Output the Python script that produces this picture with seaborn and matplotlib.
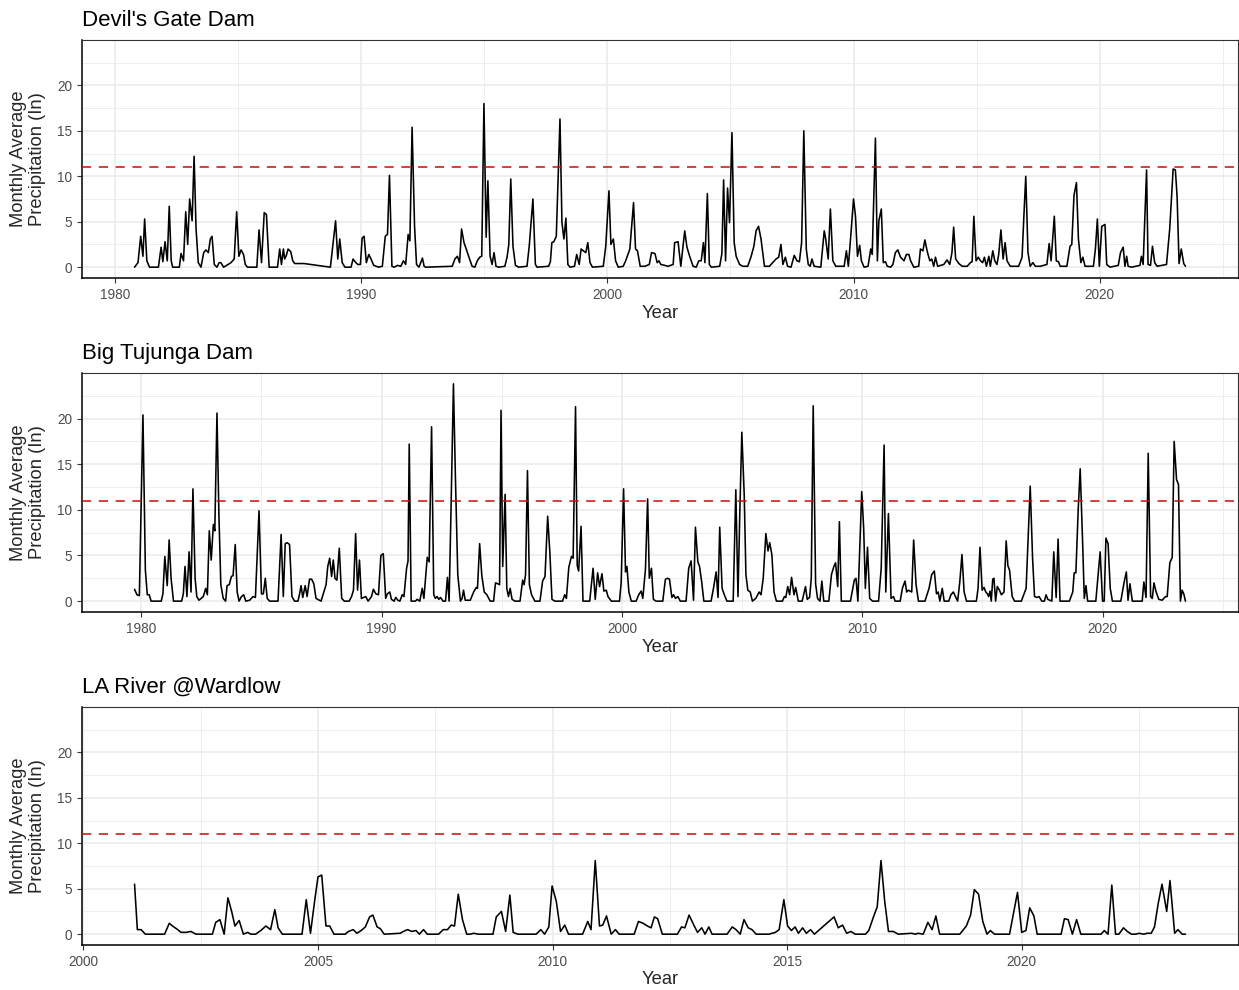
import numpy as np
import pandas as pd
import matplotlib
matplotlib.use("Agg")
import matplotlib.pyplot as plt
import seaborn as sns
from matplotlib.ticker import MultipleLocator

# ---------------- data (decimal year, monthly average precipitation in inches) ----------------
stations = ["Devil's Gate Dam", "Big Tujunga Dam", "LA River @Wardlow"]
threshold = 11.0
x_major_step = [10, 10, 5]

devils_gate = [
    (1980.78,0),(1980.92,0.5),(1981.03,3.4),(1981.12,1.2),(1981.19,5.3),(1981.28,0.7),(1981.39,0),
    (1981.75,0),(1981.86,2.2),(1981.93,0.6),(1982.02,2.8),(1982.11,0.7),(1982.19,6.7),(1982.27,0.7),
    (1982.33,0),(1982.60,0),(1982.67,1.5),(1982.77,0.7),(1982.86,6.1),(1982.94,2.5),(1983.02,7.5),
    (1983.12,5.1),(1983.20,12.2),(1983.28,4.2),(1983.37,0.5),(1983.48,0),(1983.59,1.6),(1983.68,1.9),
    (1983.78,1.6),(1983.86,3.1),(1983.93,3.4),(1984.02,0.3),(1984.13,0),(1984.22,0.5),(1984.29,0.5),
    (1984.40,0),(1984.70,0.5),(1984.83,0.9),(1984.93,6.1),(1985.02,1.2),(1985.11,1.9),(1985.21,1.4),
    (1985.28,0.3),(1985.37,0),(1985.75,0),(1985.84,4.1),(1985.94,0.5),(1986.05,6.0),(1986.14,5.8),
    (1986.25,0),(1986.59,0),(1986.68,2.0),(1986.75,0.3),(1986.83,2.0),(1986.88,0.9),(1986.95,1.3),
    (1987.02,2.0),(1987.13,1.7),(1987.21,0.7),(1987.29,0.4),(1987.67,0.4),(1988.74,0),(1988.95,5.1),
    (1989.04,0.9),(1989.12,3.1),(1989.22,0.5),(1989.33,0),(1989.58,0),(1989.66,0.9),(1989.74,0.6),
    (1989.85,0.3),(1989.96,0.3),(1990.03,3.2),(1990.11,3.4),(1990.20,0.5),(1990.30,1.4),(1990.39,0.9),
    (1990.50,0.2),(1990.70,0),(1990.85,0.1),(1990.97,3.4),(1991.06,3.6),(1991.14,10.1),(1991.24,0.1),
    (1991.33,0),(1991.47,0.2),(1991.60,0.1),(1991.71,0.7),(1991.80,0.3),(1991.90,3.6),(1991.97,2.9),
    (1992.06,15.4),(1992.16,4.5),(1992.24,0.3),(1992.34,0),(1992.48,1.0),(1992.55,0.1),(1992.61,0),
    (1993.69,0.1),(1993.80,0.9),(1993.90,1.2),(1993.99,0.5),(1994.07,4.2),(1994.17,2.7),(1994.26,2.0),
    (1994.37,1.1),(1994.50,0.1),(1994.61,0),(1994.71,0.7),(1994.81,1.1),(1994.89,1.2),(1994.98,18.0),
    (1995.07,3.3),(1995.14,9.5),(1995.23,1.2),(1995.31,0.3),(1995.39,1.6),(1995.47,0.1),(1995.58,0),
    (1995.83,0.1),(1995.92,1.1),(1995.99,2.5),(1996.07,9.7),(1996.16,2.3),(1996.26,0.2),(1996.39,0),
    (1996.73,0.1),(1996.82,2.3),(1996.97,7.5),(1997.07,0.3),(1997.14,0),(1997.61,0.1),(1997.68,0.6),
    (1997.74,2.7),(1997.82,2.8),(1997.92,3.4),(1998.07,16.3),(1998.15,4.9),(1998.23,3.1),(1998.31,5.4),
    (1998.39,0.3),(1998.48,0),(1998.66,0.1),(1998.75,1.4),(1998.85,0.3),(1998.93,2.0),(1999.02,1.8),
    (1999.12,1.6),(1999.20,2.7),(1999.29,0.5),(1999.39,0),(1999.83,0.1),(1999.93,2.3),(2000.06,8.4),
    (2000.14,2.5),(2000.24,3.1),(2000.33,0.7),(2000.44,0),(2000.64,0.1),(2000.74,0.7),(2000.91,2.0),
    (2001.06,7.1),(2001.14,2.0),(2001.22,1.8),(2001.33,0.1),(2001.52,0.1),(2001.70,0.3),(2001.79,1.6),
    (2001.93,1.5),(2002.02,0.5),(2002.09,0.7),(2002.17,0.3),(2002.33,0.2),(2002.46,0.1),(2002.67,0.3),
    (2002.73,2.7),(2002.87,2.8),(2002.98,0.1),(2003.07,2.3),(2003.14,4.0),(2003.23,2.2),(2003.34,1.2),
    (2003.48,0.1),(2003.61,0),(2003.71,0.7),(2003.81,0.7),(2003.90,2.7),(2003.96,0.5),(2004.06,8.1),
    (2004.14,0.3),(2004.22,0),(2004.56,0.1),(2004.65,1.5),(2004.72,9.6),(2004.80,0.7),(2004.88,8.7),
    (2004.96,4.9),(2005.06,14.8),(2005.15,2.7),(2005.23,1.2),(2005.37,0.3),(2005.50,0.1),(2005.70,0.1),
    (2005.84,1.2),(2005.95,2.3),(2006.04,4.0),(2006.14,4.5),(2006.24,3.1),(2006.38,0.1),(2006.58,0.1),
    (2006.85,0.9),(2006.96,1.1),(2007.05,2.5),(2007.13,0.3),(2007.23,1.1),(2007.32,0.1),(2007.46,0),
    (2007.59,1.3),(2007.70,0.7),(2007.80,0.6),(2007.89,2.7),(2007.98,15.0),(2008.08,2.0),(2008.16,0.3),
    (2008.24,0.1),(2008.31,0.9),(2008.40,0.1),(2008.67,0),(2008.81,4.0),(2008.87,3.1),(2008.97,0.9),
    (2009.06,6.4),(2009.16,0.7),(2009.28,0.1),(2009.62,0.1),(2009.71,1.8),(2009.79,0.1),(2009.89,3.5),
    (2010.00,7.5),(2010.08,5.6),(2010.16,1.2),(2010.25,2.4),(2010.32,0.7),(2010.43,0),(2010.59,0.1),
    (2010.70,2.0),(2010.76,1.4),(2010.89,14.2),(2010.97,0.7),(2011.03,5.1),(2011.13,6.4),(2011.21,0.5),
    (2011.30,0.6),(2011.37,0.1),(2011.51,0),(2011.60,0.3),(2011.70,1.6),(2011.80,1.9),(2011.91,1.1),
    (2012.05,0.7),(2012.15,1.4),(2012.25,1.4),(2012.32,0.7),(2012.45,0),(2012.65,0.1),(2012.72,2.0),
    (2012.82,1.8),(2012.90,3.0),(2012.99,1.8),(2013.10,0.7),(2013.18,0.9),(2013.26,0.1),(2013.33,1.1),
    (2013.42,0.1),(2013.67,0.3),(2013.80,0.8),(2013.91,0.3),(2014.00,1.6),(2014.07,4.4),(2014.15,0.9),
    (2014.28,0.4),(2014.42,0.1),(2014.62,0.1),(2014.75,0.5),(2014.82,0.6),(2014.89,5.6),(2014.98,0.7),
    (2015.07,1.1),(2015.16,0.7),(2015.25,0.5),(2015.32,1.1),(2015.40,0.1),(2015.50,1.2),(2015.56,0.1),
    (2015.66,1.8),(2015.74,0.7),(2015.83,0.3),(2015.90,1.4),(2015.99,4.1),(2016.08,0.9),(2016.16,2.7),
    (2016.24,0.7),(2016.37,0.1),(2016.71,0.1),(2016.85,1.1),(2016.93,6.0),(2017.00,10.0),(2017.09,1.6),
    (2017.18,0.1),(2017.29,0.5),(2017.39,0.1),(2017.59,0.1),(2017.86,0.3),(2017.95,2.6),(2018.03,0.7),
    (2018.16,5.6),(2018.24,0.7),(2018.33,0.6),(2018.40,0.1),(2018.67,0.1),(2018.80,2.3),(2018.87,2.5),
    (2018.96,7.9),(2019.06,9.3),(2019.14,3.1),(2019.24,0.5),(2019.32,1.1),(2019.41,0.1),(2019.75,0.1),
    (2019.83,2.0),(2019.91,5.3),(2019.99,0.1),(2020.09,4.5),(2020.22,4.7),(2020.29,0.3),(2020.42,0),
    (2020.76,0.2),(2020.85,1.6),(2020.96,2.2),(2021.03,0.1),(2021.10,1.2),(2021.16,0.1),(2021.30,0),
    (2021.64,0.2),(2021.70,1.2),(2021.77,0.3),(2021.91,10.7),(2021.97,0.3),(2022.07,0.2),(2022.15,2.3),
    (2022.24,0.5),(2022.34,0.1),(2022.72,0.3),(2022.85,4.2),(2022.99,10.8),(2023.08,10.7),(2023.15,7.8),
    (2023.23,0.4),(2023.32,2.0),(2023.42,0.4),(2023.49,0.1),
]

big_tujunga = [
    (1979.72,1.3),(1979.82,0.7),(1979.92,0.6),(1980.07,20.4),(1980.17,3.4),(1980.25,0.7),(1980.33,0.7),
    (1980.41,0),(1980.83,0),(1980.90,0.8),(1980.98,4.9),(1981.08,1.7),(1981.16,6.7),(1981.24,2.5),
    (1981.34,0),(1981.68,0),(1981.75,0.8),(1981.82,3.8),(1981.90,0.5),(1981.99,5.4),(1982.07,1.0),
    (1982.15,12.3),(1982.24,2.5),(1982.31,0.5),(1982.40,0.1),(1982.58,0.5),(1982.68,1.4),(1982.75,0.7),
    (1982.83,7.7),(1982.91,4.5),(1983.00,8.4),(1983.06,7.7),(1983.15,20.6),(1983.23,9.5),(1983.31,1.8),
    (1983.41,0.3),(1983.51,0),(1983.57,1.7),(1983.66,1.8),(1983.75,2.7),(1983.82,2.8),(1983.91,6.2),
    (1983.99,1.0),(1984.07,0),(1984.17,0.5),(1984.26,0.7),(1984.35,0),(1984.51,0.1),(1984.65,0.5),
    (1984.75,0.4),(1984.90,9.9),(1985.00,0.8),(1985.08,0.8),(1985.16,2.5),(1985.24,0.3),(1985.34,0),
    (1985.69,0),(1985.82,7.3),(1985.91,0.5),(1985.99,6.3),(1986.07,6.4),(1986.17,6.2),(1986.27,0.5),
    (1986.38,0),(1986.52,0),(1986.58,0.7),(1986.65,1.7),(1986.72,0.4),(1986.82,1.7),(1986.90,0.5),
    (1987.00,2.4),(1987.09,2.4),(1987.18,1.9),(1987.27,0.3),(1987.48,0),(1987.69,1.8),(1987.76,3.8),
    (1987.84,4.7),(1987.92,2.7),(1987.99,4.5),(1988.06,2.5),(1988.14,2.3),(1988.24,5.8),(1988.34,0.3),
    (1988.45,0),(1988.65,0),(1988.75,0.5),(1988.83,1.2),(1988.92,7.4),(1989.00,1.2),(1989.08,4.5),
    (1989.16,0.3),(1989.25,0.4),(1989.34,0.5),(1989.44,0),(1989.58,0.5),(1989.66,1.3),(1989.76,0.8),
    (1989.87,0.7),(1989.97,5.0),(1990.07,5.2),(1990.17,0.3),(1990.24,0.8),(1990.34,1.0),(1990.41,0.2),
    (1990.52,0),(1990.59,0.4),(1990.68,0.1),(1990.76,0),(1990.86,0.7),(1990.93,0.5),(1991.04,3.6),
    (1991.10,4.4),(1991.15,17.2),(1991.23,0),(1991.41,0),(1991.48,0.2),(1991.59,0),(1991.69,1.4),
    (1991.76,0.3),(1991.90,4.8),(1991.98,4.3),(1992.08,19.1),(1992.17,0.7),(1992.24,0.3),(1992.31,0.5),
    (1992.38,0.2),(1992.45,0.4),(1992.56,0),(1992.66,0),(1992.74,2.6),(1992.81,0),(1992.89,10.2),
    (1992.99,23.8),(1993.07,13.8),(1993.17,2.9),(1993.28,0),(1993.35,0.3),(1993.41,1.2),(1993.48,0.1),
    (1993.69,0.1),(1993.83,1.0),(1993.94,1.5),(1993.99,1.4),(1994.08,6.3),(1994.17,2.8),(1994.27,1.0),
    (1994.38,0.7),(1994.52,0),(1994.66,0),(1994.74,2.0),(1994.84,1.9),(1994.91,1.8),(1994.97,20.9),
    (1995.04,3.8),(1995.14,11.7),(1995.21,1.4),(1995.28,0.5),(1995.35,1.4),(1995.43,0.2),(1995.55,0),
    (1995.76,0),(1995.87,2.3),(1995.93,1.8),(1995.99,2.9),(1996.07,14.3),(1996.15,1.8),(1996.24,0.7),
    (1996.38,0),(1996.59,0),(1996.70,2.2),(1996.80,2.7),(1996.91,9.3),(1997.00,5.4),(1997.09,0.2),
    (1997.21,0),(1997.53,0),(1997.62,0.7),(1997.69,0.3),(1997.79,3.7),(1997.90,4.9),(1997.97,4.7),
    (1998.07,21.3),(1998.14,3.9),(1998.20,3.3),(1998.30,8.2),(1998.38,0),(1998.66,0),(1998.80,3.6),
    (1998.89,0.2),(1998.99,3.1),(1999.07,1.6),(1999.17,3.0),(1999.25,1.1),(1999.35,1.2),(1999.42,0.5),
    (1999.56,0),(1999.90,0),(1999.97,2.1),(2000.07,12.3),(2000.15,3.2),(2000.21,3.8),(2000.29,1.0),
    (2000.39,0),(2000.59,0),(2000.70,0.7),(2000.80,1.1),(2000.87,0.3),(2000.98,3.5),(2001.07,11.2),
    (2001.14,2.5),(2001.23,3.6),(2001.31,0.2),(2001.42,0),(2001.70,0),(2001.81,2.4),(2001.90,2.5),
    (2001.98,2.4),(2002.08,0.4),(2002.15,0.7),(2002.23,0.3),(2002.33,0.5),(2002.43,0),(2002.67,0),
    (2002.78,3.6),(2002.88,4.4),(2002.98,0.1),(2003.06,8.1),(2003.16,4.3),(2003.23,3.8),(2003.32,2.1),
    (2003.41,0),(2003.71,0),(2003.81,1.4),(2003.92,3.2),(2004.00,0.4),(2004.07,8.1),(2004.17,1.4),
    (2004.26,0.7),(2004.37,0),(2004.63,0),(2004.74,12.2),(2004.83,0.5),(2004.91,10.1),(2004.99,18.5),
    (2005.09,11.6),(2005.16,2.9),(2005.24,1.2),(2005.34,1.0),(2005.43,0),(2005.57,0.3),(2005.71,1.0),
    (2005.79,0.7),(2005.88,2.5),(2005.99,7.4),(2006.08,5.5),(2006.15,6.4),(2006.24,5.1),(2006.33,1.0),
    (2006.43,0),(2006.68,0),(2006.76,0.5),(2006.82,0.4),(2006.90,1.6),(2006.98,0.7),(2007.06,2.6),
    (2007.16,0.7),(2007.23,1.5),(2007.34,0),(2007.50,0),(2007.64,1.6),(2007.71,0.2),(2007.81,0.4),
    (2007.88,2.5),(2007.96,21.4),(2008.06,1.9),(2008.14,0.3),(2008.24,0),(2008.32,2.2),(2008.40,0),
    (2008.61,0),(2008.72,2.9),(2008.82,3.8),(2008.89,4.2),(2008.98,1.6),(2009.05,8.7),(2009.13,0),
    (2009.51,0),(2009.67,2.3),(2009.74,2.5),(2009.82,0),(2009.98,12.0),(2010.06,8.0),(2010.13,1.4),
    (2010.22,5.9),(2010.31,0.3),(2010.43,0),(2010.68,0),(2010.79,3.6),(2010.91,17.1),(2010.98,1.0),
    (2011.09,9.6),(2011.20,0.3),(2011.30,0.5),(2011.37,0),(2011.58,0),(2011.67,1.4),(2011.78,2.2),
    (2011.85,1.0),(2011.92,1.2),(2011.99,1.1),(2012.06,1.0),(2012.14,6.7),(2012.24,1.8),(2012.34,0),
    (2012.61,0),(2012.78,1.4),(2012.89,2.9),(2013.00,3.3),(2013.09,0.8),(2013.16,1.0),(2013.23,0),
    (2013.33,1.4),(2013.41,0),(2013.60,0),(2013.69,0.7),(2013.79,1.0),(2013.88,0.5),(2013.97,0),
    (2014.06,2.1),(2014.15,5.1),(2014.24,1.0),(2014.34,0),(2014.75,0),(2014.82,1.4),(2014.90,5.9),
    (2014.99,1.2),(2015.07,1.5),(2015.14,1.0),(2015.21,0.8),(2015.26,0.5),(2015.32,1.1),(2015.37,0),
    (2015.43,2.4),(2015.48,2.5),(2015.55,0),(2015.62,1.6),(2015.71,1.2),(2015.79,0.7),(2015.90,1.0),
    (2015.99,6.6),(2016.06,3.9),(2016.13,3.4),(2016.24,0.5),(2016.34,0),(2016.62,0),(2016.82,1.4),
    (2016.99,12.6),(2017.09,4.6),(2017.17,0.5),(2017.27,0.4),(2017.36,0.5),(2017.47,0),(2017.58,0),
    (2017.65,0.7),(2017.72,0.2),(2017.89,0),(2017.97,5.4),(2018.07,0.4),(2018.15,6.8),(2018.23,0),
    (2018.62,0),(2018.76,1.0),(2018.82,3.1),(2018.89,3.1),(2018.99,10.2),(2019.07,14.5),(2019.17,6.5),
    (2019.24,0.3),(2019.31,1.7),(2019.38,0),(2019.72,0),(2019.90,5.4),(2020.00,0),(2020.07,0),
    (2020.14,6.9),(2020.23,6.3),(2020.32,1.4),(2020.41,0),(2020.76,0),(2020.90,2.1),(2020.99,3.2),
    (2021.06,0.1),(2021.14,1.9),(2021.24,0),(2021.65,0),(2021.72,2.1),(2021.81,0.4),(2021.90,16.2),
    (2022.00,0.5),(2022.07,0.3),(2022.14,2.0),(2022.23,1.0),(2022.34,0.2),(2022.48,0.1),(2022.62,0.5),
    (2022.69,0.5),(2022.80,4.2),(2022.90,4.8),(2022.98,17.5),(2023.08,13.3),(2023.16,12.8),(2023.24,0),
    (2023.31,1.2),(2023.38,0.8),(2023.45,0),
]

la_river = [
    (2001.09,5.5),(2001.15,0.5),(2001.23,0.5),(2001.32,0),(2001.73,0),(2001.83,1.2),(2001.90,0.9),
    (2002.01,0.5),(2002.08,0.2),(2002.19,0.2),(2002.29,0.3),(2002.40,0),(2002.75,0),(2002.82,1.3),
    (2002.91,1.6),(2003.00,0),(2003.08,4.0),(2003.16,2.5),(2003.23,0.9),(2003.32,1.5),(2003.41,0),
    (2003.50,0.2),(2003.57,0),(2003.67,0),(2003.78,0.4),(2003.89,0.9),(2003.99,0.5),(2004.08,2.7),
    (2004.15,0.7),(2004.24,0),(2004.66,0),(2004.75,3.8),(2004.84,0.1),(2004.93,3.7),(2005.00,6.3),
    (2005.08,6.5),(2005.17,0.9),(2005.25,0.9),(2005.34,0),(2005.58,0),(2005.65,0.3),(2005.75,0.5),
    (2005.83,0.1),(2005.92,0.4),(2006.01,0.8),(2006.10,1.9),(2006.17,2.1),(2006.26,0.8),(2006.33,0.6),
    (2006.41,0),(2006.75,0.1),(2006.82,0.3),(2006.91,0.5),(2007.00,0.3),(2007.09,0.4),(2007.16,0),
    (2007.25,0.5),(2007.33,0),(2007.57,0),(2007.67,0.5),(2007.76,0.5),(2007.84,1.0),(2007.91,0.9),
    (2007.99,4.4),(2008.08,1.6),(2008.17,0),(2008.24,0),(2008.32,0.1),(2008.42,0),(2008.73,0),
    (2008.80,1.9),(2008.91,2.5),(2009.00,0.3),(2009.09,4.3),(2009.16,0.2),(2009.26,0),(2009.65,0),
    (2009.75,0.5),(2009.83,0),(2009.92,0.8),(2009.99,5.3),(2010.08,3.6),(2010.17,0.3),(2010.26,1.0),
    (2010.34,0),(2010.64,0),(2010.75,1.4),(2010.82,0.5),(2010.91,8.1),(2011.00,0.9),(2011.07,1.0),
    (2011.15,2.0),(2011.25,0),(2011.34,0.5),(2011.42,0),(2011.74,0),(2011.83,1.4),(2011.93,1.2),
    (2012.02,0.9),(2012.10,0.7),(2012.17,1.9),(2012.24,1.7),(2012.34,0),(2012.66,0),(2012.75,0.8),
    (2012.82,0.7),(2012.91,2.1),(2013.02,0.9),(2013.09,0.2),(2013.18,0.7),(2013.25,0),(2013.33,0.8),
    (2013.40,0),(2013.72,0),(2013.83,0.8),(2013.91,0.5),(2014.00,0),(2014.08,1.6),(2014.17,0.7),
    (2014.25,0.5),(2014.34,0),(2014.61,0),(2014.75,0.2),(2014.83,0.5),(2014.93,3.8),(2015.01,0.9),
    (2015.09,0.4),(2015.17,0.8),(2015.24,0.1),(2015.33,0.7),(2015.41,0.1),(2015.50,0.5),(2015.58,0),
    (2016.00,1.9),(2016.09,0.7),(2016.18,1.0),(2016.27,0.1),(2016.36,0.3),(2016.45,0),(2016.67,0),
    (2016.74,0.4),(2016.84,1.9),(2016.92,3.0),(2017.00,8.1),(2017.08,3.6),(2017.16,0.3),(2017.26,0.3),
    (2017.37,0),(2017.65,0.1),(2017.74,0),(2017.79,0.1),(2017.90,0),(2018.00,1.3),(2018.09,0.5),
    (2018.17,2.0),(2018.25,0),(2018.68,0),(2018.82,0.9),(2018.91,2.1),(2018.99,4.9),(2019.08,4.4),
    (2019.17,1.4),(2019.26,0),(2019.33,0.4),(2019.42,0),(2019.74,0),(2019.91,4.6),(2020.00,0.2),
    (2020.09,0.4),(2020.17,2.9),(2020.26,2.0),(2020.33,0),(2020.84,0),(2020.91,1.7),(2020.99,1.6),
    (2021.08,0),(2021.17,1.6),(2021.26,0),(2021.69,0),(2021.76,0.4),(2021.84,0),(2021.92,5.4),
    (2022.00,0),(2022.07,0),(2022.17,0.7),(2022.25,0.3),(2022.34,0),(2022.43,0),(2022.50,0.1),
    (2022.60,0),(2022.67,0.1),(2022.76,0.1),(2022.83,0.8),(2022.91,3.4),(2022.99,5.5),(2023.09,2.5),
    (2023.16,5.9),(2023.26,0.1),(2023.33,0.5),(2023.42,0),(2023.49,0),
]

series = [devils_gate, big_tujunga, la_river]

# ---------------- styling ----------------
sns.set_style("white")
plt.rcParams['font.family'] = ['Liberation Sans', 'DejaVu Sans']

W, H = 1239, 990
fig = plt.figure(figsize=(W / 100, H / 100), dpi=100)
fig.patch.set_facecolor("white")

panel_px = [(40, 278), (373, 612), (707, 945)]   # (top, bottom) in pixels
left_px, right_px = 82, 1238

ymax = max(v for s in series for _, v in s)
ylim = (-0.05 * ymax, 1.05 * ymax)

for i, (name, data) in enumerate(zip(stations, series)):
    top, bot = panel_px[i]
    ax = fig.add_axes([left_px / W, 1 - bot / H, (right_px - left_px) / W, (bot - top) / H])
    df = pd.DataFrame(data, columns=["Year", "Precip"])
    df["Station"] = name

    sns.lineplot(data=df, x="Year", y="Precip", ax=ax, color="black",
                 linewidth=1.15, estimator=None, sort=True, zorder=3)
    ax.axhline(threshold, color="#CC0A0A", linewidth=1.1,
               linestyle=(0, (6, 5)), zorder=4)

    x0, x1 = df["Year"].min(), df["Year"].max()
    pad = 0.05 * (x1 - x0)
    ax.set_xlim(x0 - pad, x1 + pad)
    ax.set_ylim(*ylim)

    step = x_major_step[i]
    ax.xaxis.set_major_locator(MultipleLocator(step))
    ax.xaxis.set_minor_locator(MultipleLocator(step / 2))
    ax.yaxis.set_major_locator(MultipleLocator(5))
    ax.yaxis.set_minor_locator(MultipleLocator(2.5))
    ax.xaxis.set_major_formatter(matplotlib.ticker.FuncFormatter(lambda v, p: f"{int(round(v))}"))
    ax.yaxis.set_major_formatter(matplotlib.ticker.FuncFormatter(lambda v, p: f"{int(round(v))}"))

    ax.set_axisbelow(True)
    ax.grid(which="major", color="#EBEBEB", linewidth=1.2)
    ax.grid(which="minor", color="#EBEBEB", linewidth=0.6)

    ax.tick_params(which="major", length=3.8, width=0.8, color="#333333",
                   labelsize=9.8, labelcolor="#4D4D4D", pad=3.2,
                   bottom=True, left=True)
    ax.tick_params(which="minor", length=0)

    for side, sp in ax.spines.items():
        sp.set_visible(True)
        sp.set_color("#333333")
        sp.set_linewidth(0.8)
    ax.spines["left"].set_color("black")
    ax.spines["bottom"].set_color("black")
    ax.spines["left"].set_linewidth(1.1)
    ax.spines["bottom"].set_linewidth(1.1)

    ax.set_title(name, loc="left", fontsize=16, pad=10, color="black")
    ax.set_xlabel("Year", fontsize=13.2, va="center")
    ax.xaxis.set_label_coords(0.5, -(313 - 278) / (278 - 40))
    ax.set_ylabel("Monthly Average\nPrecipitation (In)", fontsize=13.2,
                  va="center", linespacing=1.1)
    ax.yaxis.set_label_coords(-(82 - 28) / (right_px - left_px), 0.5)

fig.savefig("out.png", dpi=100, facecolor="white")
